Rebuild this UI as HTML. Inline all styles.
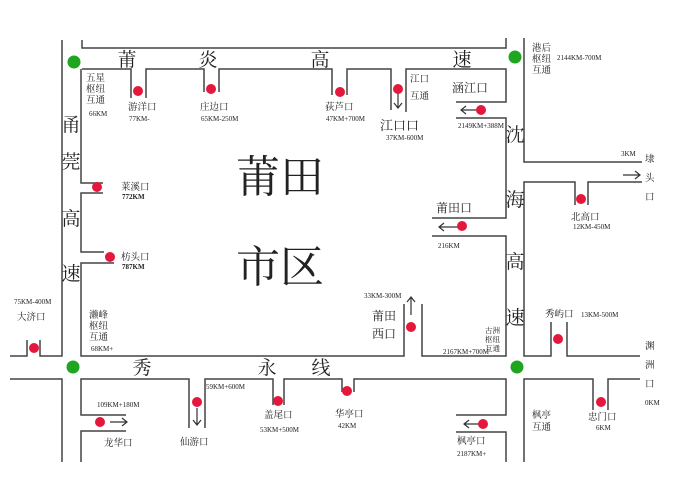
<!DOCTYPE html>
<html><head><meta charset="utf-8"><style>
html,body{margin:0;padding:0;background:#fff;}
svg{display:block;}
text{font-family:"Liberation Serif","Noto Serif CJK SC","Noto Sans CJK SC",serif;fill:#222;}
.s{font-size:7px;font-family:"Liberation Sans",sans-serif;fill:#333;}
.m{font-size:9.5px;}
.r{font-size:19px;}
.b{font-size:44px;}
</style></head><body>
<svg width="677" height="478" viewBox="0 0 677 478" xmlns="http://www.w3.org/2000/svg">
<g stroke="#444" stroke-width="1.5" fill="none">
<polyline points="82,40 82,48 506,48 506,38"/>
<polyline points="82,69 131,69 131,98"/>
<polyline points="146,98 146,69 204,69 204,92"/>
<polyline points="219,92 219,69 332,69 332,95"/>
<polyline points="347,95 347,69 391,69 391,110"/>
<polyline points="406,112 406,69 506,69 506,102 456,102"/>
<polyline points="456,118 506,118 506,218 432,218"/>
<polyline points="432,236 506,236 506,356 422,356 422,304"/>
<polyline points="404,304 404,356 81,356 81,263 114,263"/>
<polyline points="104,252 81,252 81,193 103,193"/>
<polyline points="103,183 81,183 81,69"/>
<polyline points="62,40 62,356 40,356 40,340"/>
<polyline points="27,340 27,356 10,356"/>
<polyline points="10,379 62,379 62,462"/>
<polyline points="81,462 81,431 126,431"/>
<polyline points="126,415 81,415 81,379 189,379 189,428"/>
<polyline points="205,428 205,379 273,379 273,405"/>
<polyline points="284,405 284,379 342,379 342,392"/>
<polyline points="354,392 354,379 506,379 506,415 456,415"/>
<polyline points="456,432 506,432 506,462"/>
<polyline points="524,38 524,162 642,162"/>
<polyline points="642,182 588,182 588,205"/>
<polyline points="575,205 575,182 524,182 524,356 551,356 551,322"/>
<polyline points="567,322 567,356 640,356"/>
<polyline points="640,379 608,379 608,410"/>
<polyline points="593,410 593,379 524,379 524,462"/>
</g>
<g stroke="#333" stroke-width="1.2" fill="none">
<path d="M398,88 V108 M394,103 L398,108 L402,103"/>
<path d="M478,110 H461 M466,106 L461,110 L466,114"/>
<path d="M458,227 H439 M444,223 L439,227 L444,231"/>
<path d="M623,175 H640 M635,171 L640,175 L635,179"/>
<path d="M411,315 V297 M407,302 L411,297 L415,302"/>
<path d="M197,408 V425 M193,420 L197,425 L201,420"/>
<path d="M110,422 H127 M122,418 L127,422 L122,426"/>
<path d="M480,424 H464 M469,420 L464,424 L469,428"/>
</g>
<g fill="#e4183c">
<circle cx="138" cy="91" r="5"/><circle cx="211" cy="89" r="5"/><circle cx="340" cy="92" r="5"/>
<circle cx="398" cy="89" r="5"/><circle cx="481" cy="110" r="5"/><circle cx="462" cy="226" r="5"/>
<circle cx="581" cy="199" r="5"/><circle cx="97" cy="187" r="5"/><circle cx="110" cy="257" r="5"/>
<circle cx="34" cy="348" r="5"/><circle cx="411" cy="327" r="5"/><circle cx="558" cy="339" r="5"/>
<circle cx="197" cy="402" r="5"/><circle cx="278" cy="401" r="5"/><circle cx="347" cy="391" r="5"/>
<circle cx="100" cy="422" r="5"/><circle cx="483" cy="424" r="5"/><circle cx="601" cy="402" r="5"/>
</g>
<g fill="#1fa51f">
<circle cx="74" cy="62" r="6.5"/><circle cx="515" cy="57" r="6.5"/>
<circle cx="73" cy="367" r="6.5"/><circle cx="517" cy="367" r="6.5"/>
</g>
<g class="r" text-anchor="middle">
<text x="127" y="66">莆</text><text x="208" y="66">炎</text><text x="320" y="66">高</text><text x="462" y="66">速</text>
<text x="71" y="131">甬</text><text x="71" y="168">莞</text><text x="71" y="225">高</text><text x="71" y="280">速</text>
<text x="515" y="141">沈</text><text x="515" y="206">海</text><text x="515" y="268">高</text><text x="515" y="324">速</text>
<text x="142" y="374">秀</text><text x="267" y="374">永</text><text x="321" y="374">线</text>
</g>
<text class="b" x="236" y="192">莆田</text>
<text class="b" x="236" y="282">市区</text>
<g class="m">
<text x="86" y="81">五星</text><text x="86" y="92">枢纽</text><text x="86" y="103">互通</text>
<text x="128" y="110">游洋口</text><text x="200" y="110">庄边口</text><text x="325" y="110">荻芦口</text>
<text x="410" y="82">江口</text><text x="410" y="99">互通</text>
<text x="452" y="92" style="font-size:12px">涵江口</text>
<text x="380" y="130" style="font-size:13px">江口口</text>
<text x="532" y="51">港后</text><text x="532" y="62">枢纽</text><text x="532" y="73">互通</text>
<text x="436" y="212" style="font-size:12px">莆田口</text>
<text x="571" y="220">北高口</text>
<text x="645" y="162">埭</text><text x="645" y="181">头</text><text x="645" y="200">口</text>
<text x="121" y="190">莱溪口</text><text x="121" y="260">枋头口</text>
<text x="17" y="320">大济口</text>
<text x="89" y="318">濑峰</text><text x="89" y="329">枢纽</text><text x="89" y="340">互通</text>
<text x="372" y="320" style="font-size:12px">莆田</text><text x="372" y="338" style="font-size:12px">西口</text>
<text x="485" y="333" style="font-size:7.5px">古洲</text><text x="485" y="342" style="font-size:7.5px">枢纽</text><text x="485" y="351" style="font-size:7.5px">互通</text>
<text x="545" y="317">秀屿口</text>
<text x="645" y="349">渊</text><text x="645" y="368">洲</text><text x="645" y="387">口</text>
<text x="104" y="446">龙华口</text><text x="180" y="445">仙游口</text><text x="264" y="418">盖尾口</text>
<text x="335" y="417">华亭口</text><text x="457" y="444">枫亭口</text>
<text x="532" y="418">枫亭</text><text x="532" y="430">互通</text>
<text x="588" y="420">忠门口</text>
</g>
<g class="s">
<text x="89" y="116">66KM</text><text x="129" y="121">77KM-</text><text x="201" y="121">65KM-250M</text>
<text x="326" y="121">47KM+700M</text><text x="386" y="140">37KM-600M</text>
<text x="458" y="128">2149KM+388M</text><text x="557" y="60">2144KM-700M</text>
<text x="621" y="156">3KM</text><text x="573" y="229">12KM-450M</text><text x="438" y="248">216KM</text>
<text x="122" y="199" style="font-weight:bold">772KM</text><text x="122" y="269" style="font-weight:bold">787KM</text>
<text x="14" y="304">75KM-400M</text><text x="91" y="351">68KM+</text><text x="364" y="298">33KM-300M</text>
<text x="443" y="354">2167KM+700M</text><text x="581" y="317">13KM-500M</text><text x="645" y="405">0KM</text>
<text x="97" y="407">109KM+180M</text><text x="206" y="389">59KM+600M</text><text x="260" y="432">53KM+500M</text>
<text x="338" y="428">42KM</text><text x="457" y="456">2187KM+</text><text x="596" y="430">6KM</text>
</g>
</svg>
</body></html>
